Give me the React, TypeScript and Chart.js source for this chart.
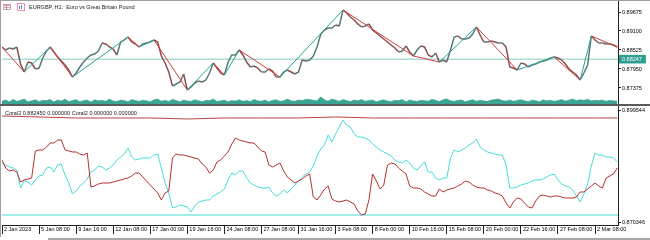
import React, { useEffect, useRef } from "react";
import { Chart, registerables } from "chart.js";
Chart.register(...registerables);

const X_LABELS = ["2 Jan 2023","5 Jan 08:00","9 Jan 16:00","12 Jan 08:00","17 Jan 00:00","19 Jan 16:00","24 Jan 08:00","27 Jan 08:00","31 Jan 16:00","3 Feb 08:00","8 Feb 00:00","10 Feb 16:00","15 Feb 08:00","20 Feb 00:00","22 Feb 16:00","27 Feb 08:00","2 Mar 08:00"];
const LABEL_STEP = 10;
const X_MAX = 166.2;

const PRICE_TICKS = [0.87375, 0.8795, 0.88525, 0.891, 0.89675];
const CURRENT_PRICE = 0.88247;
const IND_TICKS = [0.899544, 0.870346];

const PRICE = [
0.88616,0.88525,0.88586,0.88555,0.88616,0.88101,0.87859,0.88162,0.88132,0.87950,
0.87980,0.88283,0.88495,0.88616,0.88465,0.88313,0.88192,0.88071,0.87920,0.87708,
0.87829,0.88011,0.88162,0.88283,0.88374,0.88404,0.88495,0.88737,0.88707,0.88616,
0.88555,0.88374,0.88767,0.88828,0.88918,0.88767,0.88707,0.88616,0.88707,0.88737,
0.88767,0.88828,0.88767,0.88344,0.88132,0.87859,0.87436,0.87496,0.87557,0.87799,
0.87314,0.87405,0.87526,0.87587,0.87557,0.87617,0.87829,0.88132,0.87980,0.87829,
0.87768,0.88162,0.88374,0.88374,0.88525,0.88374,0.88162,0.88011,0.88041,0.87980,
0.87859,0.87859,0.87950,0.87889,0.87708,0.87708,0.87859,0.87920,0.87859,0.87799,
0.87859,0.88222,0.88192,0.88222,0.88344,0.88616,0.89009,0.89130,0.89191,0.89191,
0.89282,0.89251,0.89736,0.89645,0.89524,0.89433,0.89312,0.89221,0.89251,0.89312,
0.89130,0.89040,0.88949,0.88858,0.88767,0.88676,0.88586,0.88465,0.88495,0.88646,
0.88465,0.88344,0.88525,0.88646,0.88616,0.88374,0.88313,0.88434,0.88162,0.88222,
0.88162,0.88525,0.88918,0.88949,0.88858,0.88858,0.88888,0.89009,0.89221,0.88979,
0.88767,0.88767,0.88797,0.88767,0.88737,0.88737,0.88616,0.88011,0.87980,0.87920,
0.88132,0.88101,0.88011,0.88071,0.88101,0.88162,0.88192,0.88222,0.88283,0.88313,
0.88283,0.88222,0.88101,0.87950,0.87859,0.87768,0.87617,0.87829,0.88071,0.88949,
0.88828,0.88737,0.88737,0.88707,0.88707,0.88676,0.88616
];

const VOLUME = [
420,560,300,650,380,520,700,310,450,600,
350,520,480,640,300,560,420,700,360,500,
620,330,480,560,290,610,450,520,380,700,
420,350,560,480,300,620,500,380,540,450,
320,600,700,400,520,360,650,480,300,560,
420,380,600,450,330,520,480,700,360,450,
560,310,500,420,600,380,480,350,620,450,
400,560,320,520,600,380,450,700,450,400,
560,480,650,620,520,450,1000,600,420,700,
560,380,640,480,350,560,450,620,380,500,
560,330,480,600,420,360,520,480,620,300,
560,450,380,520,480,400,650,520,350,600,
720,450,380,520,560,330,480,600,400,520,
450,380,560,620,700,480,420,560,380,520,
600,450,360,540,480,320,600,450,520,380,
480,620,420,560,700,480,600,520,650,450,
520,480,560,400,520,450,380
];

const ZIGZAG_T = [0, 6, 13, 19, 34, 37, 41, 50, 57, 60, 64, 75, 92, 111, 118, 128, 139, 149, 156, 159, 166];
const ZIGZAG_P = [0.88616, 0.87859, 0.88616, 0.87708, 0.88918, 0.88616, 0.88828, 0.87314, 0.88132, 0.87768, 0.88525, 0.87708, 0.89736, 0.88344, 0.88162, 0.89221, 0.87920, 0.88313, 0.87617, 0.88949, 0.88616];

const CORAL_RED = [
0.88651,0.88442,0.88364,0.88390,0.88338,0.88077,0.88130,0.88156,0.88182,0.88886,
0.88912,0.88912,0.88990,0.89094,0.89094,0.89172,0.89172,0.88912,0.88886,0.88860,
0.88860,0.88807,0.88781,0.88833,0.87947,0.87973,0.88025,0.88051,0.88051,0.88051,
0.88077,0.88103,0.88130,0.88156,0.88182,0.88234,0.88312,0.88312,0.88208,0.88103,
0.87999,0.87895,0.87791,0.87608,0.87791,0.87843,0.88703,0.88807,0.88781,0.88781,
0.88755,0.88729,0.88703,0.88677,0.88547,0.88468,0.88312,0.88390,0.88599,0.88651,
0.88755,0.88860,0.89068,0.89224,0.89172,0.89146,0.89120,0.89094,0.89094,0.88990,
0.88886,0.88860,0.88521,0.88468,0.88521,0.88573,0.88364,0.88208,0.88130,0.88051,
0.88103,0.88156,0.88234,0.88286,0.87686,0.87608,0.87738,0.87895,0.87973,0.87634,
0.87582,0.87556,0.87582,0.87608,0.87556,0.87504,0.87321,0.87217,0.87243,0.87608,
0.88286,0.88103,0.87895,0.87999,0.88521,0.88573,0.88547,0.88442,0.88364,0.88286,
0.87973,0.87921,0.87921,0.87895,0.87817,0.87765,0.87712,0.87712,0.87895,0.87817,
0.87869,0.87895,0.87921,0.87973,0.88025,0.88103,0.88077,0.87999,0.87947,0.87921,
0.87921,0.87869,0.87843,0.87791,0.87765,0.87712,0.87530,0.87400,0.87556,0.87660,
0.87634,0.87530,0.87426,0.87400,0.87582,0.87712,0.87738,0.87712,0.87686,0.87712,
0.87712,0.87686,0.87660,0.87660,0.87660,0.87686,0.87817,0.87817,0.87895,0.87973,
0.88051,0.87973,0.87921,0.88182,0.88234,0.88286,0.88442
];

const CORAL_CYAN = [
0.88573,0.88521,0.88468,0.88442,0.88390,0.87921,0.88103,0.88077,0.87999,0.88130,
0.88234,0.88260,0.88442,0.88468,0.88338,0.88521,0.88547,0.88260,0.88051,0.87765,
0.87843,0.87973,0.88051,0.88156,0.88338,0.88390,0.88494,0.88468,0.88390,0.88442,
0.88521,0.88651,0.88729,0.88807,0.88964,0.88729,0.88651,0.88677,0.88703,0.88703,
0.88703,0.88781,0.88807,0.88442,0.88051,0.87791,0.87400,0.87426,0.87478,0.87452,
0.87426,0.87295,0.87452,0.87556,0.87582,0.87608,0.87608,0.87712,0.87765,0.87817,
0.87895,0.88130,0.88312,0.88260,0.88364,0.88364,0.88182,0.88051,0.87999,0.87947,
0.87921,0.87921,0.87947,0.87791,0.87712,0.87765,0.87869,0.87791,0.87895,0.87999,
0.88103,0.88208,0.88286,0.88338,0.88494,0.88755,0.88938,0.89042,0.89303,0.89120,
0.89329,0.89511,0.89694,0.89563,0.89511,0.89329,0.89251,0.89251,0.89224,0.89172,
0.89068,0.88990,0.88912,0.88860,0.88807,0.88755,0.88651,0.88599,0.88573,0.88651,
0.88573,0.88442,0.88390,0.88494,0.88599,0.88338,0.88338,0.88182,0.88130,0.88182,
0.88182,0.88703,0.88912,0.88860,0.88912,0.88964,0.89042,0.89094,0.89198,0.88990,
0.88912,0.88860,0.88833,0.88807,0.88781,0.88781,0.88521,0.87921,0.87921,0.87947,
0.87999,0.88025,0.88051,0.88103,0.88130,0.88130,0.88156,0.88208,0.88260,0.88286,
0.88130,0.88025,0.87973,0.87947,0.87869,0.87712,0.87556,0.87765,0.88025,0.88494,
0.88833,0.88781,0.88781,0.88729,0.88729,0.88703,0.88599
];

const CORAL_UPPER_T = [0,10,20,30,40,50,60,70,80,90,100,110,120,130,140,150,160,166];
const CORAL_UPPER = [0.89798,0.89772,0.89746,0.89746,0.89746,0.89720,0.89746,0.89746,0.89746,0.89772,0.89746,0.89746,0.89746,0.89746,0.89746,0.89746,0.89746,0.89746];
const CORAL_LOWER = 0.87217;

const FONT = '"Liberation Sans", Arial, sans-serif';
const RED = "#d23c3c";
const TEAL = "#2aa198";

const framePlugin = {
  id: "frame",
  afterDraw(chart: any) {
    const ctx = chart.ctx;
    const sep = chart.scales.yPrice.bottom;
    ctx.save();
    ctx.fillStyle = "#a0a0a0";
    ctx.fillRect(0, 0, chart.width, 1);
    ctx.fillRect(0, 0, 1, 237);
    ctx.fillStyle = "#5a5a5a";
    ctx.fillRect(0, sep - 1, chart.width, 2);
    ctx.fillStyle = "#a8a8a8";
    ctx.fillRect(48, chart.height - 2, chart.width - 48, 2);
    // toolbar icons
    ctx.fillStyle = "#e79aa6";
    ctx.fillRect(3, 4, 8, 6);
    ctx.fillStyle = "#ffffff";
    ctx.fillRect(4, 6, 6, 1);
    ctx.fillRect(4, 8, 6, 1);
    ctx.fillStyle = "#5aa6c8";
    ctx.fillRect(6, 5, 1, 5);
    ctx.fillStyle = "#f08cb4";
    ctx.fillRect(17, 3, 8, 8);
    ctx.fillStyle = "#ffffff";
    ctx.fillRect(18, 4, 6, 6);
    ctx.fillStyle = "#4a8ed0";
    ctx.fillRect(19, 6, 1, 3);
    ctx.fillRect(21, 5, 1, 4);
    ctx.restore();
  },
};

export default function App() {
  const ref = useRef<HTMLCanvasElement | null>(null);
  useEffect(() => {
    document.body.style.margin = "0";
    const canvas = ref.current;
    if (!canvas) return;
    const xy = (arr: number[]) => arr.map((v, i) => ({ x: i, y: v }));
    const segColor = (c: any) => (c.p1.parsed.y >= c.p0.parsed.y ? TEAL : RED);
    const chart = new Chart(canvas, {
      type: "line",
      data: {
        datasets: [
          { data: ZIGZAG_T.map((t, i) => ({ x: t, y: ZIGZAG_P[i] })), yAxisID: "yPrice", borderWidth: 1, pointRadius: 0, borderColor: RED, segment: { borderColor: segColor } } as any,
          { data: xy(PRICE), yAxisID: "yPrice", borderWidth: 1.5, pointRadius: 0, borderColor: "#666666", segment: { borderColor: (c: any) => (c.p1.parsed.y >= c.p0.parsed.y ? "#587a77" : "#8a5050") } } as any,
          { data: [{ x: 0, y: CURRENT_PRICE }, { x: X_MAX, y: CURRENT_PRICE }], yAxisID: "yPrice", borderWidth: 1, pointRadius: 0, borderColor: "#86cbc3" },
          { data: xy(VOLUME), yAxisID: "yVol", borderWidth: 0.5, pointRadius: 0, borderColor: "#2a9d8a", backgroundColor: "#3aa593", fill: "origin" },
          { data: xy(CORAL_RED), yAxisID: "yInd", borderWidth: 1, pointRadius: 0, borderColor: "#b3302e" },
          { data: xy(CORAL_CYAN), yAxisID: "yInd", borderWidth: 1, pointRadius: 0, borderColor: "#46dcdc" },
          { data: CORAL_UPPER_T.map((t, i) => ({ x: t, y: CORAL_UPPER[i] })), yAxisID: "yInd", borderWidth: 1, pointRadius: 0, borderColor: "#b84444" },
          { data: [{ x: 0, y: CORAL_LOWER }, { x: X_MAX, y: CORAL_LOWER }], yAxisID: "yInd", borderWidth: 1, pointRadius: 0, borderColor: "#46dcd4" },
        ],
      },
      options: {
        animation: false,
        responsive: false,
        events: [],
        layout: { padding: { left: 2, top: 1, right: 0, bottom: 0 }, autoPadding: false } as any,
        plugins: { legend: { display: false }, tooltip: { enabled: false } },
        scales: {
          x: {
            type: "linear",
            position: "bottom",
            min: 0,
            max: X_MAX,
            afterBuildTicks: (s: any) => { s.ticks = X_LABELS.map((_, k) => ({ value: k * LABEL_STEP })); },
            afterFit: (s: any) => { s.height = 15; s.paddingLeft = 0; s.paddingRight = 0; },
            ticks: { autoSkip: false, maxRotation: 0, minRotation: 0, align: "start", padding: -8, labelOffset: 2, color: "#000", font: { family: FONT, size: 5.5 }, callback: (_v: any, idx: number) => X_LABELS[idx] },
            grid: { drawOnChartArea: false, drawTicks: true, tickLength: 9, color: "#222" },
            border: { display: true, color: "#222", width: 1 },
          } as any,
          yPrice: {
            type: "linear",
            position: "right",
            stack: "panes",
            stackWeight: 104,
            min: 0.868605,
            max: 0.900079,
            afterBuildTicks: (s: any) => { s.ticks = [...PRICE_TICKS, CURRENT_PRICE].map((v) => ({ value: v })); },
            afterFit: (s: any) => { s.width = 32; s.paddingTop = 0; s.paddingBottom = 0; },
            ticks: {
              autoSkip: false,
              padding: 1,
              font: { family: FONT, size: 5.5 },
              color: (c: any) => (c.tick && c.tick.value === CURRENT_PRICE ? "#ffffff" : "#000000"),
              showLabelBackdrop: (c: any) => !!(c.tick && c.tick.value === CURRENT_PRICE),
              backdropColor: "#2e9e92",
              backdropPadding: { left: 3, right: 4, top: 1, bottom: 1 },
              callback: (v: any) => Number(v).toFixed(5),
            },
            grid: { drawOnChartArea: false, drawTicks: true, tickLength: 3, color: "#222" },
            border: { display: true, color: "#222", width: 1 },
          } as any,
          yInd: {
            type: "linear",
            position: "right",
            stack: "panes",
            stackWeight: 120,
            min: 0.869564,
            max: 0.900848,
            afterBuildTicks: (s: any) => { s.ticks = IND_TICKS.map((v) => ({ value: v })); },
            afterFit: (s: any) => { s.width = 32; s.paddingTop = 0; s.paddingBottom = 0; },
            ticks: { autoSkip: false, padding: 1, color: "#000", font: { family: FONT, size: 5.5 }, callback: (v: any) => Number(v).toFixed(6) },
            grid: { drawOnChartArea: false, drawTicks: true, tickLength: 3, color: "#222" },
            border: { display: true, color: "#222", width: 1 },
          } as any,
          yVol: { type: "linear", display: false, min: -16940, max: 14420 } as any,
        },
      },
      plugins: [framePlugin],
    });
    return () => chart.destroy();
  }, []);

  const label: React.CSSProperties = {
    position: "absolute",
    fontFamily: FONT,
    fontSize: "11px",
    lineHeight: "12px",
    color: "#1a1a1a",
    whiteSpace: "pre",
    transform: "scale(0.5)",
    transformOrigin: "left top",
  };

  return (
    <div style={{ position: "fixed", left: 0, top: 0, width: 650, height: 240, background: "#fff" }}>
      <canvas ref={ref} width={650} height={240} style={{ width: 650, height: 240, display: "block" }} />
      <div style={{ ...label, left: 29, top: 4 }}>EURGBP, H1:  Euro vs Great Britain Pound</div>
      <div style={{ ...label, left: 5, top: 110 }}>Coral2 0.882450 0.000000 Coral2 0.000000 0.000000</div>
    </div>
  );
}
